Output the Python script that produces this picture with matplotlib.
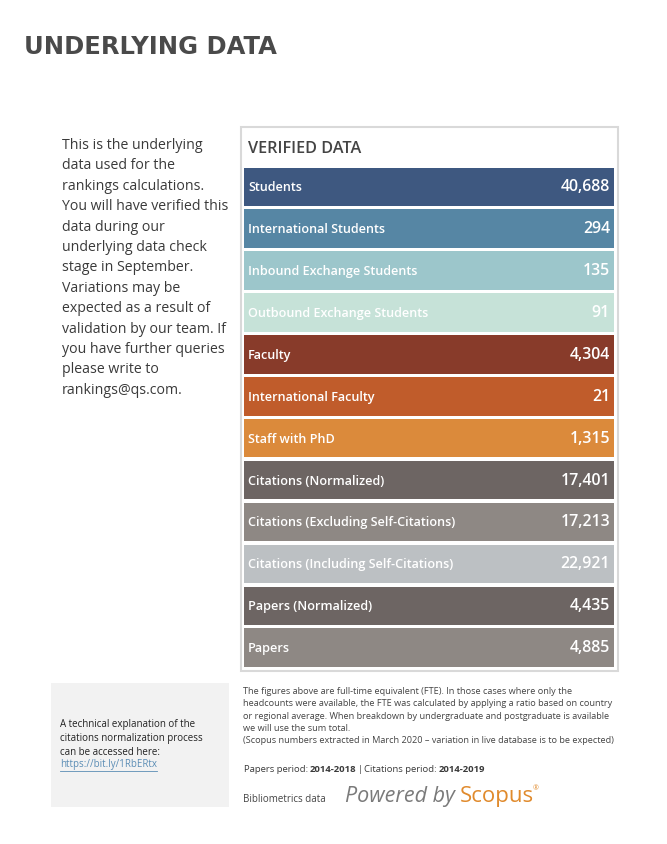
import matplotlib.pyplot as plt
from matplotlib.patches import Rectangle

plt.rcParams['font.family'] = ['Open Sans', 'DejaVu Sans']

labels = ['Students', 'International Students', 'Inbound Exchange Students',
          'Outbound Exchange Students', 'Faculty', 'International Faculty',
          'Staff with PhD', 'Citations (Normalized)',
          'Citations (Excluding Self-Citations)',
          'Citations (Including Self-Citations)', 'Papers (Normalized)', 'Papers']
values = [40688, 294, 135, 91, 4304, 21, 1315, 17401, 17213, 22921, 4435, 4885]
colors = ['#3e5880', '#5686a4', '#9cc6cb', '#c6e2d8', '#883b2a', '#c05c2b',
          '#db8a3b', '#6d6563', '#8e8884', '#bcc0c3', '#6d6563', '#8e8884']

intro = ("This is the underlying\ndata used for the\nrankings calculations.\n"
         "You will have verified this\ndata during our\nunderlying data check\n"
         "stage in September.\nVariations may be\nexpected as a result of\n"
         "validation by our team. If\nyou have further queries\nplease write to\n"
         "rankings@qs.com.")
note = ("The figures above are full-time equivalent (FTE). In those cases where only the\n"
        "headcounts were available, the FTE was calculated by applying a ratio based on country\n"
        "or regional average. When breakdown by undergraduate and postgraduate is available\n"
        "we will use the sum total.\n"
        "(Scopus numbers extracted in March 2020 \u2013 variation in live database is to be expected)")
period_parts = [('Papers period:', 'normal'), ('2014-2018', 'bold'),
                ('|', 'normal'), ('Citations period:', 'normal'),
                ('2014-2019', 'bold')]

W, H = 667, 845
fig = plt.figure(figsize=(W / 100, H / 100), dpi=100)
ax = fig.add_axes([0, 0, 1, 1])
ax.set_xlim(0, W)
ax.set_ylim(H, 0)
ax.axis('off')

# title
ax.text(24, 47, 'UNDERLYING DATA', fontsize=17.5, fontweight='bold',
        family='DejaVu Sans', color='#4a4a4a', va='center', ha='left')

# intro paragraph
ax.text(62, 138, intro, fontsize=10.2, color='#3a3a3a', va='top', ha='left',
        linespacing=1.49)

# verified data panel
ax.add_patch(Rectangle((240.5, 127.5), 377.5, 544.5, facecolor='white',
                       edgecolor='#d9d9d9', lw=1.5))
ax.text(248, 149, 'VERIFIED DATA', fontsize=11.7, fontweight='semibold',
        color='#444444', va='center')

pitch, bh, top = 41.9, 38.5, 168.5
ys = [top + bh / 2 + i * pitch for i in range(len(labels))]
ax.barh(ys, [370] * len(labels), left=244, height=bh, color=colors)
for y, lab, v in zip(ys, labels, values):
    ax.text(248, y, lab, fontsize=9.1, fontweight='semibold', color='white',
            va='center', ha='left')
    ax.text(610, y - 0.5, f'{v:,}', fontsize=11.4, fontweight='semibold',
            color='white', va='center', ha='right')

# grey box bottom-left
ax.add_patch(Rectangle((51, 684), 178, 124, facecolor='#f2f2f2', edgecolor='none'))
ax.text(60, 719, "A technical explanation of the\ncitations normalization process\n"
        "can be accessed here:", fontsize=7.0, color='#222222', va='top',
        ha='left', linespacing=1.4)
link = ax.text(60, 765, 'https://bit.ly/1RbERtx', fontsize=7.0, color='#5b8db5',
               va='center', ha='left')

# footnote
ax.text(243, 687, note, fontsize=6.6, color='#444444', va='top', ha='left',
        linespacing=1.47)

fig.canvas.draw()
r = fig.canvas.get_renderer()
x = 244
for txt, wt in period_parts:
    t = ax.text(x, 770, txt, fontsize=6.8, fontweight=wt, color='#3a3a3a',
                va='center', ha='left')
    x += t.get_window_extent(r).width + 1.5

ax.text(243, 800, 'Bibliometrics data', fontsize=7, color='#444444', va='center')
ax.text(345, 797, 'Powered by', fontsize=15.5, style='italic', color='#7a7a7a',
        va='center')
ax.text(460, 797, 'Scopus', fontsize=16, color='#e08a2c', va='center')
ax.text(533, 789, '\u00ae', fontsize=5, color='#e08a2c', va='center')

bb = link.get_window_extent(r)
ax.plot([bb.x0, bb.x1], [H - bb.y0 + 1, H - bb.y0 + 1], color='#5b8db5', lw=0.6)

fig.savefig('out.png', dpi=100)
